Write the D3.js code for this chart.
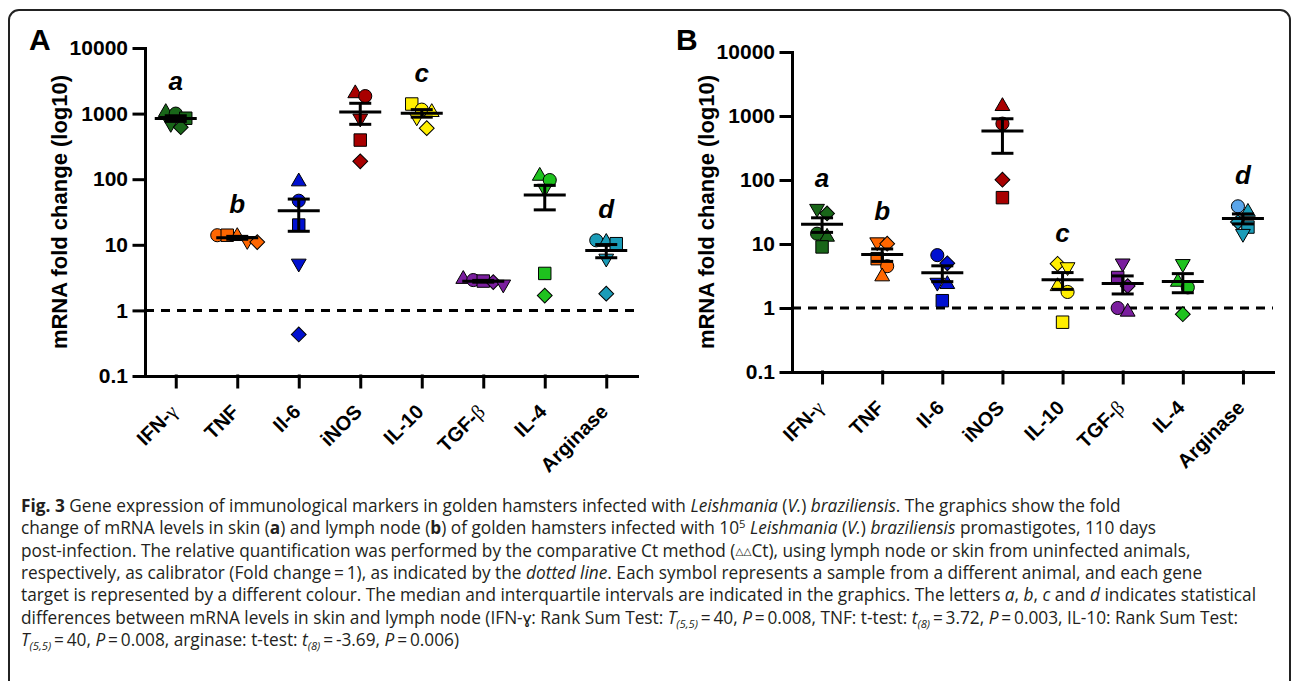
<!DOCTYPE html>
<meta charset="utf-8">
<script src="https://d3js.org/d3.v7.min.js"></script>
<style>
  body { margin: 0; background: #fff; }
  text { font-family: "Liberation Sans", Arial, sans-serif; }
</style>
<div id="fig"></div>
<script>

// genes on the x axis, same order in both panels
var genes = ["IFN-γ", "TNF", "Il-6", "iNOS", "IL-10", "TGF-β", "IL-4", "Arginase"];
// one symbol per animal
var shapes = ["circle", "square", "triangle", "triangleDown", "diamond"];
var geneColors = ["#196619", "#ff6600", "#0010d0", "#a80000", "#ffee00", "#7a1e9e", "#1ec21e", "#1a9cb8"];

// fold change per gene, animals in the order of "shapes" (null = no sample)
var skinValues = [
  [1000, 850, 1050, 700, 620],
  [14, 14, 13.5, 11.5, 11],
  [47, 20, 92, 5.2, 0.43],
  [1850, 395, 2030, 845, 187],
  [1150, 1400, 1050, 880, 600],
  [2.9, 2.8, 3.0, 2.5, 2.7],
  [97, 3.66, 112, 72, 1.68],
  [11.7, 10.4, 11, 6.2, 1.8]
];
var lymphValues = [
  [14.5, 9, 12.9, 35.7, 30],
  [4.5, 5.9, 3.1, 10.7, 10.1],
  [6.7, 1.3, 2.35, 2.5, 5.0],
  [760, 53, 1420, null, 101],
  [1.78, 0.6, 2.18, 4.37, 4.9],
  [1.0, 3.0, 0.87, 5.0, 2.2],
  [2.1, null, 2.55, 4.9, 0.8],
  [38.8, 18.4, 31.6, 14.5, 22]
];
var letters = {"IFN-γ": "a", "TNF": "b", "IL-10": "c", "Arginase": "d"};
var yTicks = [0.1, 1, 10, 100, 1000, 10000];

var captionLines = [
  [["Fig. 3", "b"], [" Gene expression of immunological markers in golden hamsters infected with "], ["Leishmania", "i"], [" ("], ["V.", "i"], [") "], ["braziliensis", "i"], [". The graphics show the fold"]],
  [["change of mRNA levels in skin ("], ["a", "b"], [") and lymph node ("], ["b", "b"], [") of golden hamsters infected with 10"], ["5", "sup"], [" "], ["Leishmania", "i"], [" ("], ["V.", "i"], [") "], ["braziliensis", "i"], [" promastigotes, 110 days"]],
  [["post-infection. The relative quantification was performed by the comparative Ct method ("], ["△△", "tiny"], ["Ct), using lymph node or skin from uninfected animals,"]],
  [["respectively, as calibrator (Fold change\u2009=\u20091), as indicated by the "], ["dotted line", "i"], [". Each symbol represents a sample from a different animal, and each gene"]],
  [["target is represented by a different colour. The median and interquartile intervals are indicated in the graphics. The letters "], ["a", "i"], [", "], ["b", "i"], [", "], ["c", "i"], [" and "], ["d", "i"], [" indicates statistical"]],
  [["differences between mRNA levels in skin and lymph node (IFN-ɣ: Rank Sum Test: "], ["T", "i"], ["(5,5)", "sub"], ["\u2009=\u200940, "], ["P", "i"], ["\u2009=\u20090.008, TNF: t-test: "], ["t", "i"], ["(8)", "sub"], ["\u2009=\u20093.72, "], ["P", "i"], ["\u2009=\u20090.003, IL-10: Rank Sum Test:"]],
  [["T", "i"], ["(5,5)", "sub"], ["\u2009=\u200940, "], ["P", "i"], ["\u2009=\u20090.008, arginase: t-test: "], ["t", "i"], ["(8)", "sub"], ["\u2009=\u2009-3.69, "], ["P", "i"], ["\u2009=\u20090.006)"]]
];

var width = 1292, height = 681;

var svg = d3.select("#fig").append("svg")
    .attr("width", width)
    .attr("height", height);

// rounded frame round the whole figure
svg.append("rect")
    .attr("x", 9).attr("y", 10)
    .attr("width", 1281).attr("height", 720)
    .attr("rx", 10)
    .attr("fill", "none")
    .attr("stroke", "#222")
    .attr("stroke-width", 2);

var panels = [
  {label: "A", values: skinValues, left: 145, right: 637, top: 48, bottom: 376, override: null},
  {label: "B", values: lymphValues, left: 792, right: 1273, top: 52, bottom: 372, override: {gene: 7, shape: 0, color: "#5aa5ea"}}
];

var symbolTypes = {
  circle: {type: d3.symbolCircle, size: 135, rot: 0},
  square: {type: d3.symbolSquare, size: 155, rot: 0},
  triangle: {type: d3.symbolTriangle, size: 95, rot: 0},
  triangleDown: {type: d3.symbolTriangle, size: 95, rot: 180},
  diamond: {type: d3.symbolSquare, size: 110, rot: 45}
};

// spread points that sit at nearly the same height (like a scatter dot plot)
function spread(vals, y) {
  var pts = [];
  vals.forEach(function(v, i) {
    if (v != null) pts.push({v: v, shape: shapes[i], idx: i, py: y(v)});
  });
  pts.sort(function(a, b) { return a.py - b.py; });
  var rows = [], cur = null;
  pts.forEach(function(p) {
    if (cur && p.py - cur[0].py < 11) cur.push(p);
    else { cur = [p]; rows.push(cur); }
  });
  rows.forEach(function(r) {
    r.forEach(function(p, i) { p.dx = (i - (r.length - 1) / 2) * 10; });
  });
  return pts;
}

function drawPanel(p) {
  var g = svg.append("g");

  var x = d3.scalePoint().domain(genes).range([p.left, p.right]).padding(0.5);
  var y = d3.scaleLog().domain([0.1, 10000]).range([p.bottom, p.top]);

  // calibrator line (fold change = 1)
  g.append("line")
      .attr("x1", p.left).attr("x2", p.right)
      .attr("y1", y(1)).attr("y2", y(1))
      .attr("stroke", "#000")
      .attr("stroke-width", 3)
      .attr("stroke-dasharray", "9,7");

  // y axis
  var ya = g.append("g")
      .attr("transform", "translate(" + p.left + ",0)")
      .call(d3.axisLeft(y).tickValues(yTicks).tickSize(11).tickSizeOuter(0).tickPadding(6).tickFormat(d3.format("~g")));
  ya.selectAll("text").style("font-size", "21px").style("font-weight", "bold").attr("fill", "#000");

  // x axis
  g.append("g")
      .attr("transform", "translate(0," + p.bottom + ")")
      .call(d3.axisBottom(x).tickSize(11).tickSizeOuter(0).tickFormat(""));

  g.selectAll(".domain, .tick line")
      .attr("stroke", "#000")
      .attr("stroke-width", 3)
      .attr("stroke-linecap", "square");

  // rotated gene names, Greek letters in a serif face
  genes.forEach(function(name) {
    var t = g.append("text")
        .attr("text-anchor", "end")
        .attr("transform", "translate(" + (x(name) + 3) + "," + (p.bottom + 37) + ") rotate(-45)")
        .style("font-size", "20px")
        .style("font-weight", "bold");
    var greek = name.match(/[γβ]$/);
    if (greek) {
      t.append("tspan").text(name.slice(0, -1));
      t.append("tspan").text(greek[0])
          .style("font-family", "'Liberation Serif', serif")
          .style("font-weight", "normal");
    } else {
      t.text(name);
    }
  });

  // y axis title
  g.append("text")
      .attr("text-anchor", "middle")
      .attr("transform", "translate(" + (p.left - 78) + "," + ((p.top + p.bottom) / 2) + ") rotate(-90)")
      .style("font-size", "22px")
      .style("font-weight", "bold")
      .text("mRNA fold change (log10)");

  // panel letter
  g.append("text")
      .attr("x", p.left - 116)
      .attr("y", 50)
      .style("font-size", "30px")
      .style("font-weight", "bold")
      .text(p.label);

  // points
  p.values.forEach(function(vals, gi) {
    var pts = spread(vals, y);
    var cx = x(genes[gi]);
    g.selectAll(null)
      .data(pts)
      .enter()
      .append("path")
        .attr("d", function(d) { var s = symbolTypes[d.shape]; return d3.symbol().type(s.type).size(s.size)(); })
        .attr("transform", function(d) {
          return "translate(" + (cx + d.dx) + "," + d.py + ") rotate(" + symbolTypes[d.shape].rot + ")";
        })
        .attr("fill", function(d) {
          if (p.override && p.override.gene == gi && p.override.shape == d.idx) return p.override.color;
          return geneColors[gi];
        })
        .attr("stroke", "#000")
        .attr("stroke-width", 1);
  });

  // mean and SEM bars on top
  p.values.forEach(function(vals, gi) {
    var v = vals.filter(function(d) { return d != null; });
    var m = d3.mean(v), sem = d3.deviation(v) / Math.sqrt(v.length);
    var cx = x(genes[gi]);
    var bars = g.append("g").attr("stroke", "#000").attr("stroke-width", 3);
    bars.append("line").attr("x1", cx - 21).attr("x2", cx + 21).attr("y1", y(m)).attr("y2", y(m));
    bars.append("line").attr("x1", cx - 11).attr("x2", cx + 11).attr("y1", y(m + sem)).attr("y2", y(m + sem));
    bars.append("line").attr("x1", cx - 11).attr("x2", cx + 11).attr("y1", y(m - sem)).attr("y2", y(m - sem));
    bars.append("line").attr("x1", cx).attr("x2", cx).attr("y1", y(m + sem)).attr("y2", y(m - sem));

    if (letters[genes[gi]]) {
      g.append("text")
          .attr("x", cx)
          .attr("y", y(d3.max(v)) - 22)
          .attr("text-anchor", "middle")
          .style("font-size", "26px")
          .style("font-weight", "bold")
          .style("font-style", "italic")
          .text(letters[genes[gi]]);
    }
  });
}

panels.forEach(drawPanel);

// caption, one text element per printed line
var cap = svg.append("g")
    .attr("fill", "#231f20");

var capLeft = 21;
captionLines.forEach(function(line, li) {
  var t = cap.append("text")
      .attr("class", "capline")
      .attr("x", capLeft)
      .attr("y", 512 + li * 22.3)
      .style("font-family", "'Open Sans', sans-serif")
      .style("font-size", "15.6px");
  var shift = 0;
  line.forEach(function(seg) {
    var s = t.append("tspan").text(seg[0]);
    var dy = 0;
    if (seg[1] == "b") s.style("font-weight", "bold");
    if (seg[1] == "i") s.style("font-style", "italic");
    if (seg[1] == "sup") { dy = -6; s.style("font-size", "0.65em"); }
    if (seg[1] == "sub") { dy = 4; s.style("font-size", "0.65em").style("font-style", "italic"); }
    if (seg[1] == "tiny") { dy = -2; s.style("font-size", "0.6em").style("font-family", "'DejaVu Sans', sans-serif"); }
    // move to the new baseline, undoing any previous shift
    if (dy - shift != 0) s.attr("dy", dy - shift);
    shift = dy;
  });
});

// size the caption so the long lines reach the right margin
var longest = d3.max(cap.selectAll(".capline").nodes(), function(n) { return n.getComputedTextLength(); });
cap.selectAll(".capline").style("font-size", (15.6 * 1236 / longest) + "px");

</script>
